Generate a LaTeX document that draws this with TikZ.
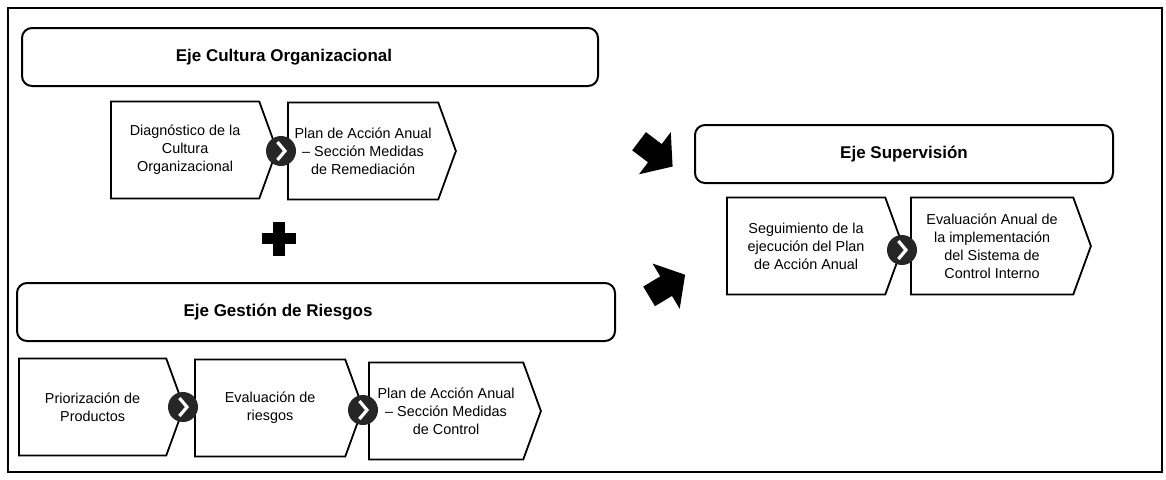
\documentclass[tikz,border=0pt]{standalone}
\usepackage{fontspec}
\setmainfont{Liberation Sans}
\usepackage{tikz}
\usetikzlibrary{shapes.symbols,shapes.arrows,positioning}

\begin{document}
\begin{tikzpicture}[x=0.5pt,y=-0.5pt]
  \tikzset{axis/.style = {shape=rectangle,draw,rounded corners=5pt,line width=1pt,minimum height=29pt,inner sep=0pt}}
  \tikzset{axistitle/.style = {font=\bfseries\fontsize{8.5}{10}\selectfont}}
  \tikzset{stage/.style = {shape=signal,signal to=east,signal pointer angle=140,draw,line width=0.9pt,minimum height=48.5pt,inner sep=1pt,align=center,font=\fontsize{7.2}{9}\selectfont,anchor=west}}
  \tikzset{nextmark/.style = {shape=circle,fill=black!85,minimum size=15pt,inner sep=0pt,
      path picture={\draw[white,line width=1.6pt,line join=miter] ([shift={(-1.8pt,4.5pt)}]path picture bounding box.center) -- ++(3.8pt,-4.5pt) -- ++(-3.8pt,-4.5pt);}}}
  \tikzset{bigarrow/.style = {shape=single arrow,fill=black,inner xsep=2pt,inner ysep=5.5pt,minimum height=21pt,single arrow head extend=7.5pt,single arrow tip angle=100}}

	\useasboundingbox (0,0) rectangle (1166,479);
	\draw[line width=0.9pt] (8,8) rectangle (1162,472);

	\node[axis,minimum width=288pt,label={[axistitle,xshift=-13pt]center:Eje Cultura Organizacional}] (cultura) at (310,57) {};
	\node[axis,minimum width=299pt,label={[axistitle,xshift=-19pt]center:Eje Gestión de Riesgos}] (riesgos) at (316,312) {};
	\node[axis,minimum width=209pt,label={[axistitle]center:Eje Supervisión}] (supervision) at (904,154) {};

	\node[stage,minimum width=83pt] (diag) at (110,150) {Diagnóstico de la\\Cultura\\Organizacional};
	\node[stage,minimum width=84pt] (remed) at (287,151) {Plan de Acción Anual\\– Sección Medidas\\de Remediación};

	\node[stage,minimum width=82.5pt] (prior) at (18,407) {Priorización de\\Productos};
	\node[stage,minimum width=84pt] (evalr) at (194,408) {Evaluación de\\riesgos};
	\node[stage,minimum width=86pt] (control) at (368,411) {Plan de Acción Anual\\– Sección Medidas\\de Control};

	\node[stage,minimum width=88pt] (segui) at (726,246) {Seguimiento de la\\ejecución del Plan\\de Acción Anual};
	\node[stage,minimum width=90pt] (evala) at (910,246) {Evaluación Anual de\\la implementación\\del Sistema de\\Control Interno};

	\foreach \nm/\x/\y in {mkA/281/151, mkB/183/407, mkC/363/410, mkD/902/250}
	\node[nextmark] (\nm) at (\x,\y) {};

	\node[bigarrow,rotate=-37] (toSupA) at (652,151) {};
	\node[bigarrow,rotate=31] (toSupB) at (663,288) {};

	\fill (262,233) rectangle (296,244);
	\fill (273,222) rectangle (285,256);

\end{tikzpicture}
\end{document}
